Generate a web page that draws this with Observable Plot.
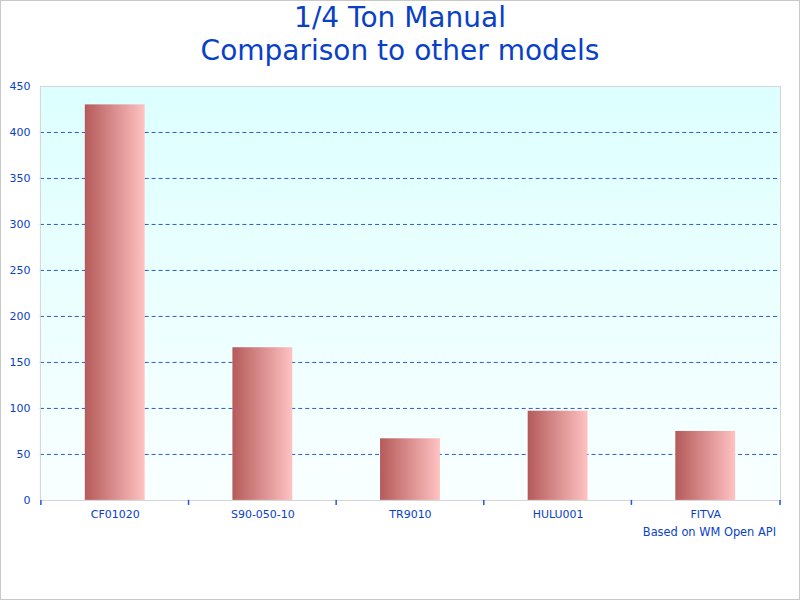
<!DOCTYPE html>
<html><head><meta charset="utf-8">
<script src="https://cdn.jsdelivr.net/npm/d3@7"></script>
<script src="https://cdn.jsdelivr.net/npm/@observablehq/plot@0.6"></script>
<style>
html,body{margin:0;padding:0;background:#fff;}
#wrap{position:relative;width:800px;height:600px;box-sizing:border-box;border:1px solid #c8c8c8;overflow:hidden;font-family:"DejaVu Sans",sans-serif;}
.title{position:absolute;left:0;width:798px;text-align:center;color:#0a3fc8;font-size:28px;line-height:33px;height:33px;white-space:nowrap;}
#chart{position:absolute;left:-1px;top:75px;}
#caption{position:absolute;right:23px;top:524px;color:#0a3fc8;font-size:11.4px;}
</style></head>
<body><div id="wrap">
<div class="title" style="top:0px">1/4 Ton Manual</div>
<div class="title" style="top:33px">Comparison to other models</div>
<div id="chart"></div>
<div id="caption">Based on WM Open API</div>
</div>
<script>
const models = ["CF01020", "S90-050-10", "TR9010", "HULU001", "FITVA"];
const values = [430, 166, 67, 97, 75];
const yTicks = [0, 50, 100, 150, 200, 250, 300, 350, 400, 450];
const gridTicks = [50, 100, 150, 200, 250, 300, 350, 400];

const data = models.map((m, i) => ({model: m, value: values[i]}));
const blue = "#0a3fc8";

const defs = () => {
  const g = d3.create("svg:g");
  const d = g.append("defs");
  const bar = d.append("linearGradient").attr("id", "barGrad").attr("x1", 0).attr("x2", 1).attr("y1", 0).attr("y2", 0);
  bar.append("stop").attr("offset", "0%").attr("stop-color", "#b55a5a");
  bar.append("stop").attr("offset", "100%").attr("stop-color", "#ffc2c2");
  const bg = d.append("linearGradient").attr("id", "bgGrad").attr("x1", 0).attr("x2", 0).attr("y1", 0).attr("y2", 1);
  bg.append("stop").attr("offset", "0%").attr("stop-color", "#ddffff");
  bg.append("stop").attr("offset", "100%").attr("stop-color", "#f9ffff");
  return g.node();
};

const xTicks = (index, scales, values, dims) => {
  const g = d3.create("svg:g").attr("stroke", "#1a5ad8").attr("stroke-width", 1.5);
  const xs = models.map(m => scales.x(m));
  xs.push(dims.width - dims.marginRight);
  const y0 = dims.height - dims.marginBottom;
  for (const x of xs) {
    g.append("line").attr("x1", x).attr("x2", x).attr("y1", y0).attr("y2", y0 + 5);
  }
  return g.node();
};

const chart = Plot.plot({
  width: 801,
  height: 524,
  marginTop: 10,
  marginBottom: 99,
  marginLeft: 40,
  marginRight: 19,
  style: {fontFamily: "DejaVu Sans, sans-serif", fontSize: "11px", background: "transparent"},
  x: {domain: models, padding: 0, label: null},
  y: {domain: [0, 450], ticks: yTicks, label: null},
  marks: [
    defs,
    Plot.frame({fill: "url(#bgGrad)", stroke: null}),
    Plot.ruleY(gridTicks, {stroke: "#2a5ad0", strokeDasharray: "4,3", strokeWidth: 1}),
    Plot.barY(data, {x: "model", y: "value", fill: "url(#barGrad)", insetLeft: 44, insetRight: 44}),
    Plot.frame({stroke: "#d4d4d4", strokeWidth: 1}),
    xTicks,
    Plot.axisX({tickSize: 0, tickPadding: 10, fill: blue, fontSize: 11}),
    Plot.axisY({ticks: yTicks, tickSize: 0, tickPadding: 10, fill: blue, fontSize: 11})
  ]
});
document.getElementById("chart").appendChild(chart);
</script>
</body></html>
